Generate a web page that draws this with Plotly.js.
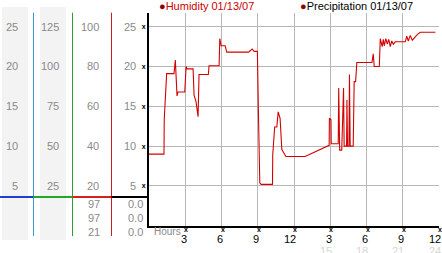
<!DOCTYPE html>
<html>
<head>
<meta charset="utf-8">
<script src="https://cdn.plot.ly/plotly-3.0.1.min.js"></script>
<style>html,body{margin:0;padding:0;background:#fff;}#chart{width:442px;height:253px;}</style>
</head>
<body>
<div id="chart"></div>
<script>
// ---- data ----
const hours = [0,1.24,1.26,1.38,1.46,2.07,2.18,2.32,2.40,2.96,3.07,3.15,3.65,3.73,3.89,4.06,4.14,4.91,4.97,5.80,5.86,5.97,6.30,6.44,8.23,8.40,8.53,8.70,8.97,9.06,9.11,9.17,9.28,10.22,10.24,10.40,10.58,10.69,10.85,10.99,11.10,11.33,12.92,14.72,14.91,14.93,15.06,15.08,15.66,15.70,15.78,15.95,16.10,16.15,16.35,16.38,16.43,16.55,16.59,16.65,16.90,16.98,17.10,17.20,18.45,18.56,18.64,19.06,19.14,19.30,19.39,19.47,19.60,19.72,19.84,19.97,20.09,20.22,20.38,21.21,21.33,21.46,21.62,21.79,21.95,22.20,22.45,23.70];
const humidity = [9.0,9.0,13.3,18.1,19.1,19.1,20.8,16.3,16.8,16.8,20.0,19.7,19.7,16.4,15.6,13.7,19.0,19.0,20.1,20.1,23.5,22.6,22.6,21.8,21.8,22.0,22.2,21.9,21.9,13.8,6.6,5.4,5.2,5.2,8.9,12.4,12.4,14.3,13.5,9.6,9.3,8.7,8.7,10.0,10.1,13.5,13.3,10.3,10.3,17.3,9.5,9.5,17.3,10.0,10.0,15.8,10.0,10.0,19.0,10.0,10.0,18.1,18.1,20.5,20.5,21.6,20.0,20.0,23.5,22.5,23.4,22.6,23.5,22.8,23.4,22.5,23.2,22.8,23.1,23.1,23.8,23.2,23.9,23.3,23.6,24.0,24.3,24.3];

const hourTicks = [3,6,9,12,15,18,21,24];
const hourLabels = ['3','6','9','12','3','6','9','12'];
const hour24Ticks = [15,18,21,24];
const hour24Labels = ['15','18','21','24'];

const col1Vals = [5,10,15,20,25];
const col2Vals = [25,50,75,100,125];
const col3Vals = [20,40,60,80,100];
const col4Vals = [5,10,15,20,25];
const col3Now = ['97','97','21'];
const col4Now = ['0.0','0.0','0.0'];
const seriesNames = ['Humidity 01/13/07','Precipitation 01/13/07'];

// ---- layout helpers (pixel -> paper) ----
const W = 442, H = 253;
const X = p => p / W;
const Y = p => 1 - p / H;
const FONT = 'Liberation Sans, Arial, sans-serif';
const GRAY = '#8a8a8a';
const MARK = '<b>x</b>';

const annotations = [];
function lab(text, xr, yv, color, xanchor, yref) {
  annotations.push({text: text, x: xr, xref: 'paper', y: yv, yref: yref || 'y',
    xanchor: xanchor || 'right', yanchor: 'middle', showarrow: false,
    font: {family: FONT, size: 11, color: color || GRAY}});
}
col1Vals.forEach(v => lab(String(v), X(20), v, GRAY));
col2Vals.forEach(v => lab(String(v), X(61), v / 5, GRAY));
col3Vals.forEach(v => lab(String(v), X(101), v / 4, GRAY));
col4Vals.forEach(v => lab(String(v), X(138), v, GRAY));
const rowY = [204, 218, 232];
col3Now.forEach((t, i) => lab(t, X(102), Y(rowY[i]), GRAY, 'right', 'paper'));
col4Now.forEach((t, i) => lab(t, X(145), Y(rowY[i]), GRAY, 'right', 'paper'));

// x tick marks, hour labels and 24h labels
hourTicks.forEach((h, i) => {
  annotations.push({text: MARK, x: h, xref: 'x', y: Y(229.5), yref: 'paper',
    xanchor: 'center', yanchor: 'middle', xshift: 1, showarrow: false, font: {family: FONT, size: 7, color: '#000'}});
  annotations.push({text: hourLabels[i], x: h, xref: 'x', y: Y(239), yref: 'paper',
    xanchor: 'right', yanchor: 'middle', xshift: 3.5, showarrow: false, font: {family: FONT, size: 11, color: '#000'}});
});
hour24Ticks.forEach((h, i) => annotations.push({text: hour24Labels[i], x: h, xref: 'x', y: Y(251), yref: 'paper',
  xanchor: 'right', yanchor: 'middle', xshift: 3.5, showarrow: false, font: {family: FONT, size: 11, color: '#d6d6d6'}}));
annotations.push({text: 'Hours', x: X(152), xref: 'paper', y: Y(231.5), yref: 'paper', xanchor: 'left', yanchor: 'middle',
  showarrow: false, font: {family: FONT, size: 10, color: GRAY}});

// legend-like headers
annotations.push({text: '<span style="color:#8b0000">●</span>' + seriesNames[0], x: X(157), xref: 'paper', y: Y(6), yref: 'paper',
  xanchor: 'left', yanchor: 'middle', showarrow: false, font: {family: FONT, size: 11, color: '#cc0000'}});
annotations.push({text: '<span style="color:#8b0000">●</span>' + seriesNames[1], x: X(298), xref: 'paper', y: Y(6), yref: 'paper',
  xanchor: 'left', yanchor: 'middle', showarrow: false, font: {family: FONT, size: 11, color: '#000'}});

const shapes = [
  {type: 'rect', xref: 'paper', yref: 'paper', x0: X(2), x1: X(28), y0: Y(240), y1: Y(7), fillcolor: '#f3f3f3', line: {width: 0}, layer: 'below'},
  {type: 'rect', xref: 'paper', yref: 'paper', x0: X(40), x1: X(66), y0: Y(240), y1: Y(7), fillcolor: '#f3f3f3', line: {width: 0}, layer: 'below'},
  {type: 'line', xref: 'paper', yref: 'paper', x0: X(33.5), x1: X(33.5), y0: Y(236), y1: Y(12.7), line: {color: '#3a9ad2', width: 1}},
  {type: 'line', xref: 'paper', yref: 'paper', x0: X(72.5), x1: X(72.5), y0: Y(236), y1: Y(12.7), line: {color: '#2ea02e', width: 1}},
  {type: 'line', xref: 'paper', yref: 'paper', x0: X(111.5), x1: X(111.5), y0: Y(236), y1: Y(12.7), line: {color: '#c82020', width: 1}},
  {type: 'line', xref: 'paper', yref: 'paper', x0: 0, x1: X(33.5), y0: Y(197), y1: Y(197), line: {color: '#1e3fd0', width: 2}},
  {type: 'line', xref: 'paper', yref: 'paper', x0: X(33.5), x1: X(72.5), y0: Y(197), y1: Y(197), line: {color: '#22a822', width: 2}},
  {type: 'line', xref: 'paper', yref: 'paper', x0: X(72.5), x1: X(111.5), y0: Y(197), y1: Y(197), line: {color: '#d81e1e', width: 2}},
  {type: 'line', xref: 'paper', yref: 'paper', x0: X(111.5), x1: X(149), y0: Y(197), y1: Y(197), line: {color: '#000', width: 2}}
];

const trace = {x: hours, y: humidity, type: 'scatter', mode: 'lines', name: seriesNames[0],
  line: {color: '#d40000', width: 1.1}, hoverinfo: 'skip'};

const layout = {
  width: W, height: H,
  margin: {l: 0, r: 0, t: 0, b: 0},
  paper_bgcolor: '#fff', plot_bgcolor: '#fff',
  showlegend: false,
  xaxis: {domain: [X(149), X(439)], range: [0, 24], tickvals: hourTicks, showticklabels: false,
    showgrid: true, gridcolor: '#b8b8b8', gridwidth: 1, zeroline: false,
    showline: true, linecolor: '#000', linewidth: 2, ticks: '', fixedrange: true},
  yaxis: {domain: [Y(225.8), Y(12.7)], range: [0, 26.75], tickvals: col4Vals, ticktext: col4Vals.map(() => MARK),
    showgrid: true, gridcolor: '#b8b8b8', gridwidth: 1, zeroline: false,
    showline: true, linecolor: '#000', linewidth: 2, ticks: '',
    tickfont: {family: FONT, size: 7, color: '#000'}, fixedrange: true},
  annotations: annotations,
  shapes: shapes
};

Plotly.newPlot('chart', [trace], layout, {displayModeBar: false, staticPlot: true});
</script>
</body>
</html>
